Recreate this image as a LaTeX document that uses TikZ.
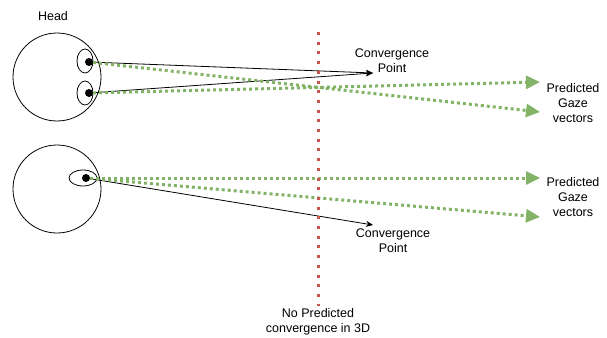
\documentclass[tikz,border=0pt]{standalone}
\usepackage{fontspec}
\setmainfont{Liberation Sans}
\usepackage{xcolor}
\usetikzlibrary{arrows.meta,shapes.geometric}

\definecolor{gazegreen}{RGB}{130,179,102}
\definecolor{planered}{RGB}{200,84,80}

\tikzset{
  head/.style={draw,circle,minimum size=88pt,inner sep=0pt,line width=0.8pt},
  eye/.style={draw,ellipse,inner sep=0pt,line width=0.8pt},
  pupil/.style={circle,fill=black,minimum size=8pt,inner sep=0pt},
  gaze/.style={gazegreen,line width=3pt,dash pattern=on 3pt off 3pt,-{Triangle[length=14pt,width=13pt]}},
  converge/.style={line width=0.8pt,-{Stealth[length=7pt,width=6pt]}},
  lbl/.style={align=center,font=\fontsize{12.5}{15}\selectfont}
}

\begin{document}
\begin{tikzpicture}[x=1pt,y=-1pt]
    \useasboundingbox (0,0) rectangle (607,337);

    % two eyes that converge
    \node[lbl] (headlbl) at (53,16) {Head};
    \node[head] (head1) at (57,77) {};
    \node[eye,minimum width=16pt,minimum height=24pt] (eyeA) at (85,61) {};
    \node[eye,minimum width=16pt,minimum height=24pt] (eyeB) at (85,93) {};
    \node[pupil] (pupA) at (89,62) {};
    \node[pupil] (pupB) at (89,93) {};
    \coordinate (cp1) at (373,73);
    \coordinate (gz1) at (540,82);
    \coordinate (gz2) at (540,112);
    \node[lbl] (cplbl1) at (392,61) {Convergence\\Point};
    \node[lbl] (gzlbl1) at (573,103) {Predicted\\Gaze\\vectors};
    \draw[converge] (pupA) -- (cp1);
    \draw[converge] (pupB) -- (cp1);
    \draw[gaze] (pupA) -- (gz2);
    \draw[gaze] (pupB) -- (gz1);

    % one eye only
    \node[head] (head2) at (57,189) {};
    \node[eye,minimum width=28pt,minimum height=16pt] (eyeC) at (83,178) {};
    \node[pupil] (pupC) at (86,178) {};
    \coordinate (cp2) at (373,225);
    \coordinate (gz3) at (540,178);
    \coordinate (gz4) at (540,217);
    \node[lbl] (cplbl2) at (393,241) {Convergence\\Point};
    \node[lbl] (gzlbl2) at (573,197) {Predicted\\Gaze\\vectors};
    \draw[converge] (pupC) -- (cp2);
    \draw[gaze] (pupC) -- (gz3);
    \draw[gaze] (pupC) -- (gz4);

    % the 3D plane
    \coordinate (rtop) at (318,32);
    \coordinate (rbot) at (318,306);
    \draw[planered,line width=3pt,dash pattern=on 3pt off 6.7pt] (rtop) -- (rbot);
    \node[lbl] (planelbl) at (318,322) {No Predicted\\convergence in 3D};
\end{tikzpicture}
\end{document}
